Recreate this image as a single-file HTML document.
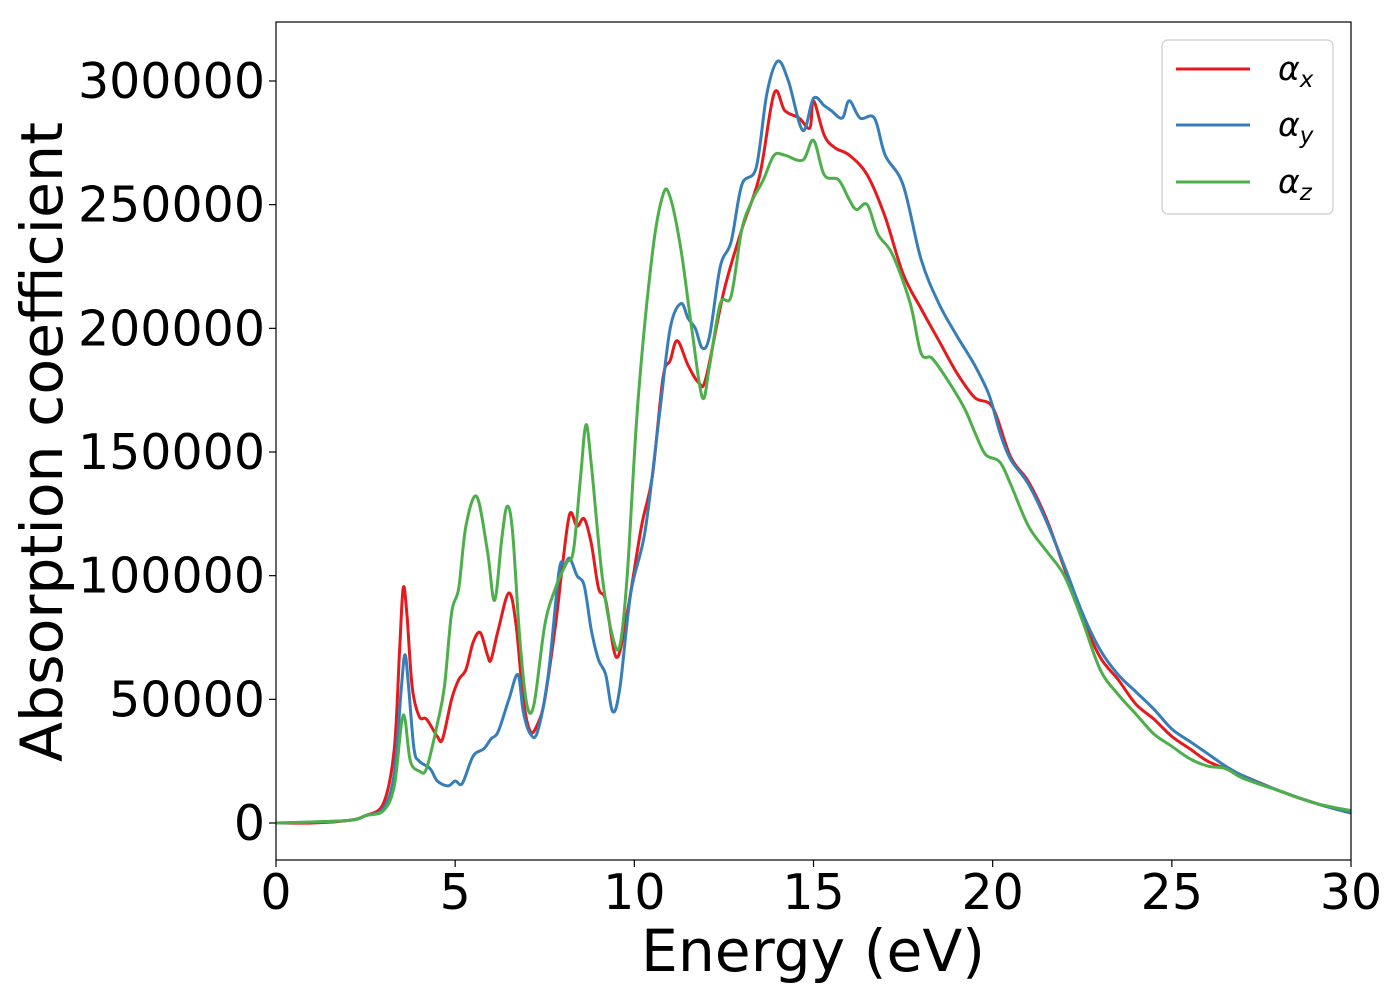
<!DOCTYPE html>
<html><head><meta charset="utf-8"><style>
html,body{margin:0;padding:0;background:#fff}
svg{display:block;font-family:"DejaVu Sans","Liberation Sans",sans-serif}
</style></head><body>
<svg id="chart" width="1400" height="1000" viewBox="0 0 1400 1000" xmlns="http://www.w3.org/2000/svg">
<defs><clipPath id="clip"><rect x="276" y="22" width="1075" height="838"/></clipPath></defs>
<rect x="0" y="0" width="1400" height="1000" fill="#fff"/>
<g id="series" clip-path="url(#clip)"></g>
<rect x="276" y="22" width="1075" height="838" fill="none" stroke="#000" stroke-width="1.2"/>
<g id="xticks"></g>
<g id="yticks"></g>
<text x="813" y="971" font-size="58" text-anchor="middle" textLength="344" lengthAdjust="spacingAndGlyphs">Energy (eV)</text>
<text transform="translate(62,442) rotate(-90)" font-size="58" text-anchor="middle" textLength="640" lengthAdjust="spacingAndGlyphs">Absorption coefficient</text>
<g>
<rect x="1162" y="40" width="171" height="174" rx="6" fill="#fff" stroke="#ccc" stroke-width="1.2"/>
<g><line x1="1176" y1="69" x2="1250" y2="69" stroke="#e41a1c" stroke-width="3"/><text x="1278" y="80" font-size="33" font-style="italic">α<tspan font-size="23" dy="7">x</tspan></text></g>
<g><line x1="1176" y1="125" x2="1250" y2="125" stroke="#377eb8" stroke-width="3"/><text x="1278" y="136" font-size="33" font-style="italic">α<tspan font-size="23" dy="7">y</tspan></text></g>
<g><line x1="1176" y1="182" x2="1250" y2="182" stroke="#4daf4a" stroke-width="3"/><text x="1278" y="193" font-size="33" font-style="italic">α<tspan font-size="23" dy="7">z</tspan></text></g>
</g>
</svg>
<script>
const xTicks=[0,5,10,15,20,25,30];
const yTicks=[0,50000,100000,150000,200000,250000,300000];
const eX=[0,1,2,2.5,3,3.3,3.45,3.55,3.65,3.8,4,4.2,4.5,4.65,4.9,5.1,5.3,5.5,5.7,5.9,6,6.2,6.5,6.7,6.9,7.1,7.3,7.5,7.8,8,8.2,8.4,8.6,8.8,9,9.2,9.5,9.8,10.2,10.5,10.8,11,11.2,11.5,11.8,12,12.5,13,13.5,13.9,14.2,14.6,14.9,15,15.3,15.6,16,16.5,17,17.5,18,18.5,19,19.5,20,20.5,21,21.5,22,22.5,23,23.5,24,24.5,25,25.5,26,26.5,27,28,29,30];
const alphaX=[0,0,1000,3000,8000,30000,70000,95000,85000,55000,43000,42000,35000,34000,50000,58000,62000,73000,77000,68000,66000,78000,93000,80000,50000,37000,40000,50000,80000,105000,125000,120000,123000,113000,95000,90000,67000,85000,120000,140000,180000,187000,195000,185000,178000,180000,215000,240000,262000,295000,288000,285000,281000,292000,278000,273000,270000,262000,245000,222000,208000,195000,182000,172000,168000,148000,138000,123000,103000,83000,67000,58000,48000,42000,35000,30000,25000,22000,19000,13000,8000,4000];
const eY=[0,2,2.5,3,3.3,3.5,3.6,3.7,3.85,4,4.3,4.5,4.8,5,5.2,5.5,5.8,6,6.2,6.5,6.75,6.9,7.1,7.3,7.6,7.9,8.05,8.2,8.4,8.6,8.8,9,9.2,9.4,9.6,9.9,10.3,10.7,11,11.3,11.5,11.7,11.9,12.1,12.4,12.7,13,13.4,13.7,14,14.3,14.7,15,15.3,15.5,15.8,16,16.3,16.7,17,17.5,18,18.5,19,19.5,19.9,20.2,20.5,21,21.5,22,22.5,23,23.5,24,24.5,25,25.5,26,26.5,27,28,29,30];
const alphaY=[0,1000,3000,6000,20000,55000,68000,55000,30000,25000,22000,17000,15000,17000,16000,27000,30000,34000,37000,50000,60000,45000,36000,37000,60000,102000,104000,107000,100000,96000,78000,66000,60000,45000,55000,93000,118000,165000,200000,210000,204000,200000,192000,197000,225000,235000,258000,265000,295000,308000,300000,280000,293000,290000,288000,285000,292000,285000,285000,270000,258000,228000,210000,197000,185000,173000,158000,147000,137000,122000,104000,85000,70000,60000,53000,46000,38000,33000,28000,23000,19000,13000,8000,4000];
const eZ=[0,2,2.5,3,3.3,3.5,3.6,3.75,4,4.2,4.5,4.7,4.9,5.1,5.3,5.6,5.9,6.1,6.3,6.45,6.6,6.8,7,7.2,7.5,7.8,8.1,8.3,8.5,8.65,8.8,9.1,9.4,9.6,9.8,10.1,10.5,10.8,11,11.3,11.6,11.9,12.1,12.4,12.7,13,13.3,13.6,13.9,14.2,14.7,15,15.3,15.7,16,16.2,16.5,16.8,17.2,17.7,18,18.3,18.7,19.2,19.5,19.8,20.2,20.5,21,21.5,22,22.5,23,23.5,24,24.5,25,25.5,26,26.5,27,28,29,30];
const alphaZ=[0,1000,3000,5000,15000,40000,42000,25000,21000,22000,40000,55000,85000,95000,120000,132000,110000,90000,115000,128000,118000,75000,48000,48000,80000,95000,105000,110000,140000,161000,145000,100000,75000,72000,100000,170000,230000,254000,253000,232000,200000,172000,185000,210000,213000,240000,252000,260000,270000,270000,268000,276000,262000,260000,252000,248000,250000,238000,230000,210000,190000,188000,180000,168000,158000,149000,146000,137000,120000,110000,100000,82000,62000,52000,44000,36000,31000,26000,23000,22000,18000,13000,8000,5000];

const X0=276,X1=1351,Y0=823,Y300=81;
const sx=e=>X0+(e-0)/30*(X1-X0);
const sy=v=>Y0+(v/300000)*(Y300-Y0);
const NS="http://www.w3.org/2000/svg";
function pathFor(es,vs){
  const p=es.map((e,i)=>[sx(e),sy(vs[i])]);
  let d="M"+p[0][0].toFixed(1)+","+p[0][1].toFixed(1);
  for(let i=0;i<p.length-1;i++){
    const a=p[Math.max(0,i-1)],b=p[i],c=p[i+1],n=p[Math.min(p.length-1,i+2)];
    const c1x=b[0]+(c[0]-a[0])/6,c1y=b[1]+(c[1]-a[1])/6;
    const c2x=c[0]-(n[0]-b[0])/6,c2y=c[1]-(n[1]-b[1])/6;
    d+=" C"+c1x.toFixed(1)+","+c1y.toFixed(1)+" "+c2x.toFixed(1)+","+c2y.toFixed(1)+" "+c[0].toFixed(1)+","+c[1].toFixed(1);
  }
  return d;
}
const g=document.getElementById("series");
function addLine(es,vs,color,name){
  const el=document.createElementNS(NS,"path");
  el.setAttribute("d",pathFor(es,vs));
  el.setAttribute("fill","none");
  el.setAttribute("stroke",color);
  el.setAttribute("stroke-width","3");
  el.setAttribute("stroke-linejoin","round");
  
  
  g.appendChild(el);
}
addLine(eX,alphaX,"#e41a1c","line-alpha-x");
addLine(eY,alphaY,"#377eb8","line-alpha-y");
addLine(eZ,alphaZ,"#4daf4a","line-alpha-z");

const xg=document.getElementById("xticks");
xTicks.forEach(t=>{
  const l=document.createElementNS(NS,"line");
  l.setAttribute("x1",sx(t));l.setAttribute("x2",sx(t));
  l.setAttribute("y1",860);l.setAttribute("y2",867);
  l.setAttribute("stroke","#000");l.setAttribute("stroke-width","1.2");
  
  
  xg.appendChild(l);
  const tx=document.createElementNS(NS,"text");
  tx.setAttribute("x",sx(t));tx.setAttribute("y",909);
  tx.setAttribute("font-size","49");tx.setAttribute("text-anchor","middle");
  tx.textContent=t;
  
  
  xg.appendChild(tx);
});
const yg=document.getElementById("yticks");
yTicks.forEach(t=>{
  const l=document.createElementNS(NS,"line");
  l.setAttribute("x1",269);l.setAttribute("x2",276);
  l.setAttribute("y1",sy(t));l.setAttribute("y2",sy(t));
  l.setAttribute("stroke","#000");l.setAttribute("stroke-width","1.2");
  
  
  yg.appendChild(l);
  const tx=document.createElementNS(NS,"text");
  tx.setAttribute("x",265);tx.setAttribute("y",sy(t)+17);
  tx.setAttribute("font-size","49");tx.setAttribute("text-anchor","end");
  tx.textContent=t;
  
  
  yg.appendChild(tx);
});
</script>
</body></html>
